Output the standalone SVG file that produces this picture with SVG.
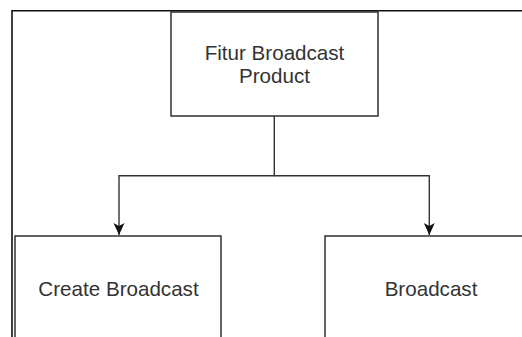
<svg xmlns="http://www.w3.org/2000/svg" width="522" height="337" viewBox="0 0 522 337">
<style>
.box{fill:#fff;stroke:#222;stroke-width:1.4}
.frame{fill:none;stroke:#111;stroke-width:1.6}
.conn{fill:none;stroke:#333;stroke-width:1.4}
.lbl{font-family:"Liberation Sans",Arial,sans-serif;font-size:20.6px;fill:#333;text-anchor:middle}
</style>
<defs>
<marker id="arr" viewBox="0 0 12 12" refX="12" refY="6" markerWidth="12" markerHeight="12" markerUnits="userSpaceOnUse" orient="auto">
<path d="M0,0.5 L12,6 L0,11.5 L3,6 Z" fill="#111"/>
</marker>
</defs>
<g id="frame">
<path class="frame" d="M12,337 V10.7 H522"/>
</g>
<g id="connectors">
<path class="conn" d="M274.3,116 V175.7 H119 V235" marker-end="url(#arr)"/>
<path class="conn" d="M274.3,175.7 H429.3 V235" marker-end="url(#arr)"/>
</g>
<g id="node-top">
<rect class="box" x="171" y="12" width="207" height="104"/>
<text class="lbl" x="274.5" y="60">Fitur Broadcast</text>
<text class="lbl" x="274.5" y="83">Product</text>
</g>
<g id="node-create">
<rect class="box" x="15" y="236" width="206" height="110"/>
<text class="lbl" x="118.5" y="296">Create Broadcast</text>
</g>
<g id="node-broadcast">
<rect class="box" x="325" y="236" width="210" height="110"/>
<text class="lbl" x="431" y="296">Broadcast</text>
</g>
</svg>
